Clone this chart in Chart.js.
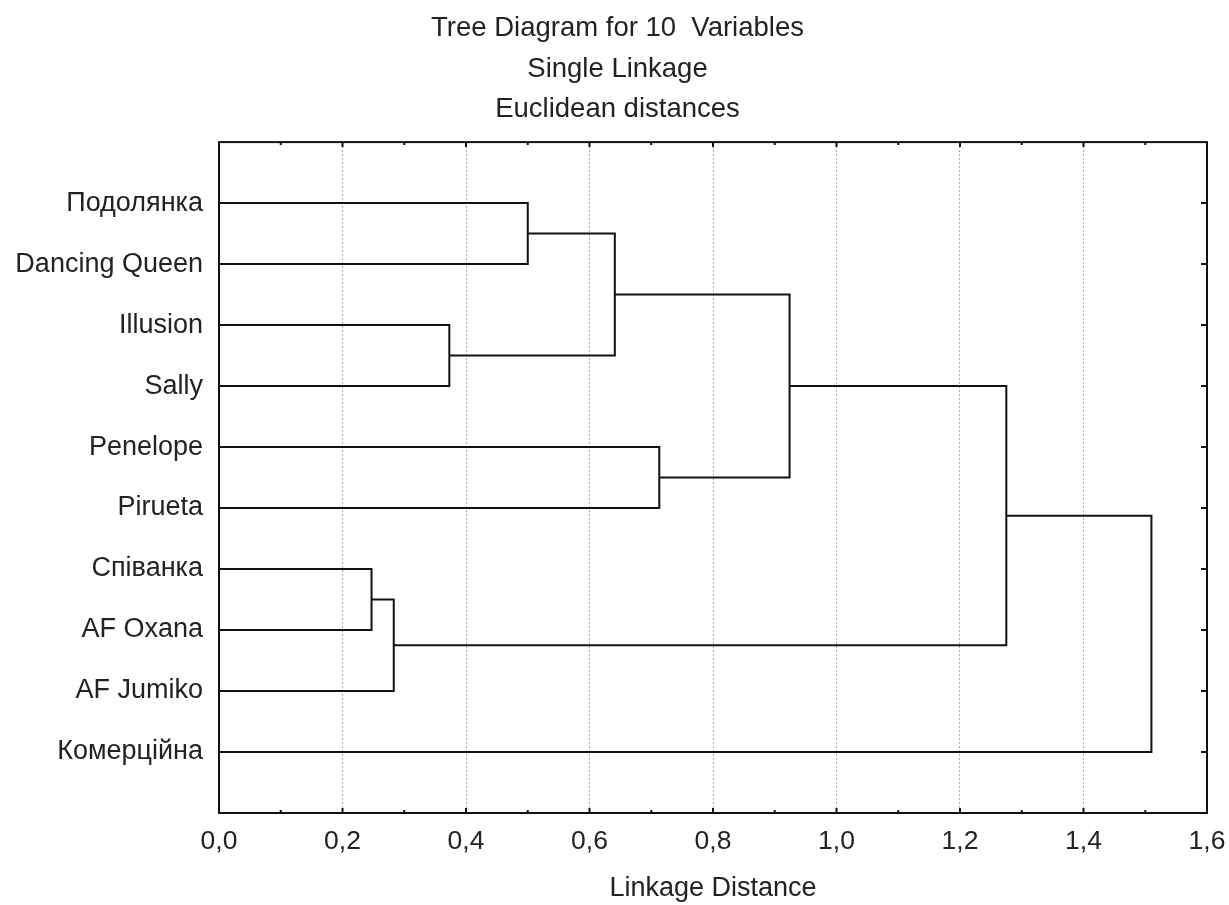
<!DOCTYPE html>
<html><head><meta charset="utf-8">
<script src="https://cdn.jsdelivr.net/npm/chart.js@4.4.0/dist/chart.umd.min.js"></script>
<style>html,body{margin:0;padding:0;background:#fff;}</style>
</head><body>
<canvas id="c" width="1229" height="905" style="display:block;width:1229px;height:905px"></canvas>
<script>
// ---- data ----
const titleLines = ['Tree Diagram for 10  Variables', 'Single Linkage', 'Euclidean distances'];
const xAxisTitle = 'Linkage Distance';
const leafLabels = ['Подолянка', 'Dancing Queen', 'Illusion', 'Sally', 'Penelope', 'Pirueta', 'Співанка', 'AF Oxana', 'AF Jumiko', 'Комерційна'];
// merges: indexes 0..9 are leaves, 10+k is the cluster formed by merge k
const mergeA = [6, 10, 2, 0, 13, 4, 14, 16, 17];
const mergeB = [7, 8, 3, 1, 12, 5, 15, 11, 9];
const mergeHeight = [0.247, 0.283, 0.373, 0.500, 0.641, 0.713, 0.924, 1.275, 1.510];
const xTickValues = [0, 0.2, 0.4, 0.6, 0.8, 1.0, 1.2, 1.4, 1.6];
const xTickLabels = ['0,0', '0,2', '0,4', '0,6', '0,8', '1,0', '1,2', '1,4', '1,6'];

const FONT = "'Liberation Sans', Arial, sans-serif";
const TEXT = '#222';
const INK = '#111';

// ---- build dendrogram link paths in data coordinates ----
const nodes = leafLabels.map((_, i) => ({ h: 0, p: i + 1 }));
const datasets = [];
mergeA.forEach((a, k) => {
  const A = nodes[a], B = nodes[mergeB[k]], h = mergeHeight[k];
  datasets.push({
    data: [{ x: A.h, y: A.p }, { x: h, y: A.p }, { x: h, y: B.p }, { x: B.h, y: B.p }],
    showLine: true, borderColor: INK, borderWidth: 2, pointRadius: 0, fill: false, tension: 0
  });
  nodes.push({ h: h, p: (A.p + B.p) / 2 });
});

const framePlugin = {
  id: 'frame',
  afterLayout(chart) {
    // let the category labels use the space left of the axis box (no clipping)
    chart.scales.y.left = 0;
  },
  afterDatasetsDraw(chart) {
    const { ctx, chartArea: a, scales: { x, y } } = chart;
    ctx.save();
    ctx.strokeStyle = INK;
    ctx.lineWidth = 2;
    ctx.strokeRect(a.left, a.top, a.right - a.left, a.bottom - a.top);
    ctx.beginPath();
    for (let k = 0; k <= 16; k++) {
      const px = x.getPixelForValue(k / 10);
      const len = k % 2 === 0 ? 5 : 3;
      ctx.moveTo(px, a.bottom); ctx.lineTo(px, a.bottom - len);
      ctx.moveTo(px, a.top); ctx.lineTo(px, a.top + len);
    }
    leafLabels.forEach((_, i) => {
      const py = y.getPixelForValue(i + 1);
      ctx.moveTo(a.right, py); ctx.lineTo(a.right - 6, py);
    });
    ctx.stroke();
    ctx.restore();
  }
};

new Chart(document.getElementById('c'), {
  type: 'scatter',
  data: { datasets },
  plugins: [framePlugin],
  options: {
    responsive: false,
    animation: false,
    devicePixelRatio: 1,
    layout: { padding: { left: 28, right: 22, top: 0, bottom: 0 } },
    plugins: {
      legend: { display: false },
      tooltip: { enabled: false },
      title: {
        display: true, text: titleLines, color: TEXT,
        font: { family: FONT, size: 27.5, weight: 'normal', lineHeight: 1.48 },
        padding: { top: 8, bottom: 12 }
      }
    },
    scales: {
      x: {
        type: 'linear', min: 0, max: 1.6,
        afterBuildTicks(s) { s.ticks = xTickValues.map(v => ({ value: v })); },
        ticks: {
          autoSkip: false, maxRotation: 0, padding: 13, color: TEXT,
          font: { family: FONT, size: 26.5 },
          callback: (v, i) => xTickLabels[i]
        },
        grid: {
          drawTicks: false, lineWidth: 1,
          color: c => (c.tick && (c.tick.value === 0 || c.tick.value === 1.6)) ? 'rgba(0,0,0,0)' : '#a8a8a8'
        },
        border: { display: false, dash: [2, 2] },
        title: {
          display: true, text: xAxisTitle, color: TEXT,
          font: { family: FONT, size: 27, lineHeight: 1.2 },
          padding: { top: 0, bottom: 0 }
        },
        afterFit(s) { s.height = 92; s.paddingLeft = 0; s.paddingRight = 0; }
      },
      y: {
        type: 'linear', min: 0, max: 11, reverse: true,
        afterBuildTicks(s) { s.ticks = leafLabels.map((_, i) => ({ value: i + 1 })); },
        ticks: {
          autoSkip: false, padding: 16, color: TEXT,
          font: { family: FONT, size: 27 },
          callback: v => leafLabels[v - 1]
        },
        grid: { display: false, drawTicks: false },
        border: { display: false },
        afterFit(s) { s.width = 191; s.paddingTop = 0; s.paddingBottom = 0; }
      }
    }
  }
});
</script>
</body></html>
